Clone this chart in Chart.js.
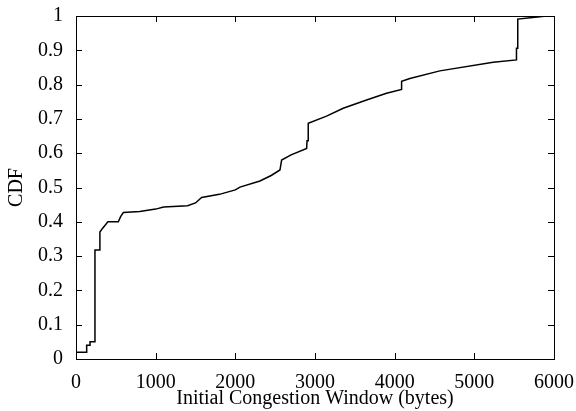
<!DOCTYPE html>
<html>
<head>
<meta charset="utf-8">
<script src="https://cdn.jsdelivr.net/npm/chart.js@4"></script>
<style>
  html, body { margin: 0; padding: 0; background: #fff; }
  #wrap { width: 576px; height: 411px; }
</style>
</head>
<body>
<div id="wrap"><canvas id="cdf-chart"></canvas></div>
<script>
// values
const windowBytes = [0, 134, 134, 176, 176, 238, 238, 292, 300, 330, 400, 531, 560, 594, 800, 1000, 1100, 1400, 1500, 1577, 1800, 2000, 2058, 2309, 2450, 2560, 2581, 2700, 2895, 2900, 2915, 2915, 3145, 3354, 3647, 3898, 4087, 4087, 4191, 4567, 5236, 5529, 5529, 5545, 5545, 5822, 5900];
const cdfValues   = [0.02, 0.02, 0.04, 0.04, 0.05, 0.05, 0.318, 0.318, 0.37, 0.38, 0.40, 0.40, 0.415, 0.427, 0.43, 0.437, 0.443, 0.447, 0.455, 0.471, 0.48, 0.493, 0.501, 0.519, 0.535, 0.551, 0.58, 0.595, 0.614, 0.636, 0.636, 0.687, 0.708, 0.731, 0.755, 0.775, 0.786, 0.81, 0.818, 0.840, 0.865, 0.872, 0.906, 0.906, 0.991, 0.998, 1.0];
const xTicks = [0, 1000, 2000, 3000, 4000, 5000, 6000];
const yTicks = [0, 0.1, 0.2, 0.3, 0.4, 0.5, 0.6, 0.7, 0.8, 0.9, 1];

const FONT = 'Liberation Serif, Times New Roman, serif';

// gnuplot-like frame with inward ticks on all four sides
const frameTicks = {
  id: 'frameTicks',
  afterDraw(chart) {
    const { ctx, chartArea: a, scales } = chart;
    const len = 6;
    ctx.save();
    ctx.strokeStyle = '#000';
    ctx.lineWidth = 1;
    ctx.strokeRect(a.left + 0.5, a.top + 0.5, a.right - a.left, a.bottom - a.top);
    ctx.beginPath();
    xTicks.forEach(v => {
      const x = Math.round(scales.x.getPixelForValue(v)) + 0.5;
      ctx.moveTo(x, a.bottom); ctx.lineTo(x, a.bottom - len);
      ctx.moveTo(x, a.top); ctx.lineTo(x, a.top + len);
    });
    yTicks.forEach(v => {
      const y = Math.round(scales.y.getPixelForValue(v)) + 0.5;
      ctx.moveTo(a.left, y); ctx.lineTo(a.left + len, y);
      ctx.moveTo(a.right, y); ctx.lineTo(a.right - len, y);
    });
    ctx.stroke();
    ctx.restore();
  }
};

new Chart(document.getElementById('cdf-chart'), {
  type: 'line',
  data: {
    datasets: [{
      data: windowBytes.map((x, i) => ({ x: x, y: cdfValues[i] })),
      borderColor: '#000',
      borderWidth: 1.5,
      pointRadius: 0,
      tension: 0,
      fill: false
    }]
  },
  options: {
    responsive: true,
    maintainAspectRatio: false,
    animation: false,
    layout: { padding: { top: 16, right: 22, left: 0, bottom: 0 } },
    plugins: { legend: { display: false }, tooltip: { enabled: false } },
    scales: {
      x: {
        type: 'linear',
        min: 0, max: 6000,
        afterBuildTicks: s => { s.ticks = xTicks.map(v => ({ value: v })); },
        afterFit: s => { s.height = 52; s.paddingLeft = 0; s.paddingRight = 0; },
        grid: { display: false, drawTicks: false },
        border: { display: false },
        ticks: {
          color: '#000',
          padding: 12,
          maxRotation: 0,
          font: { family: FONT, size: 20 },
          callback: v => String(v)
        },
        title: {
          display: true,
          text: 'Initial Congestion Window (bytes)',
          color: '#000',
          font: { family: FONT, size: 20 },
          padding: { top: -6, bottom: 0 }
        }
      },
      y: {
        min: 0, max: 1,
        afterBuildTicks: s => { s.ticks = yTicks.map(v => ({ value: v })); },
        afterFit: s => { s.width = 76; s.paddingTop = 0; s.paddingBottom = 0; },
        grid: { display: false, drawTicks: false },
        border: { display: false },
        ticks: {
          color: '#000',
          padding: 13,
          font: { family: FONT, size: 20 },
          callback: v => String(Math.round(v * 10) / 10)
        },
        title: {
          display: true,
          text: 'CDF',
          color: '#000',
          font: { family: FONT, size: 20 },
          padding: { top: 5, bottom: 0 }
        }
      }
    }
  },
  plugins: [frameTicks]
});
</script>
</body>
</html>
